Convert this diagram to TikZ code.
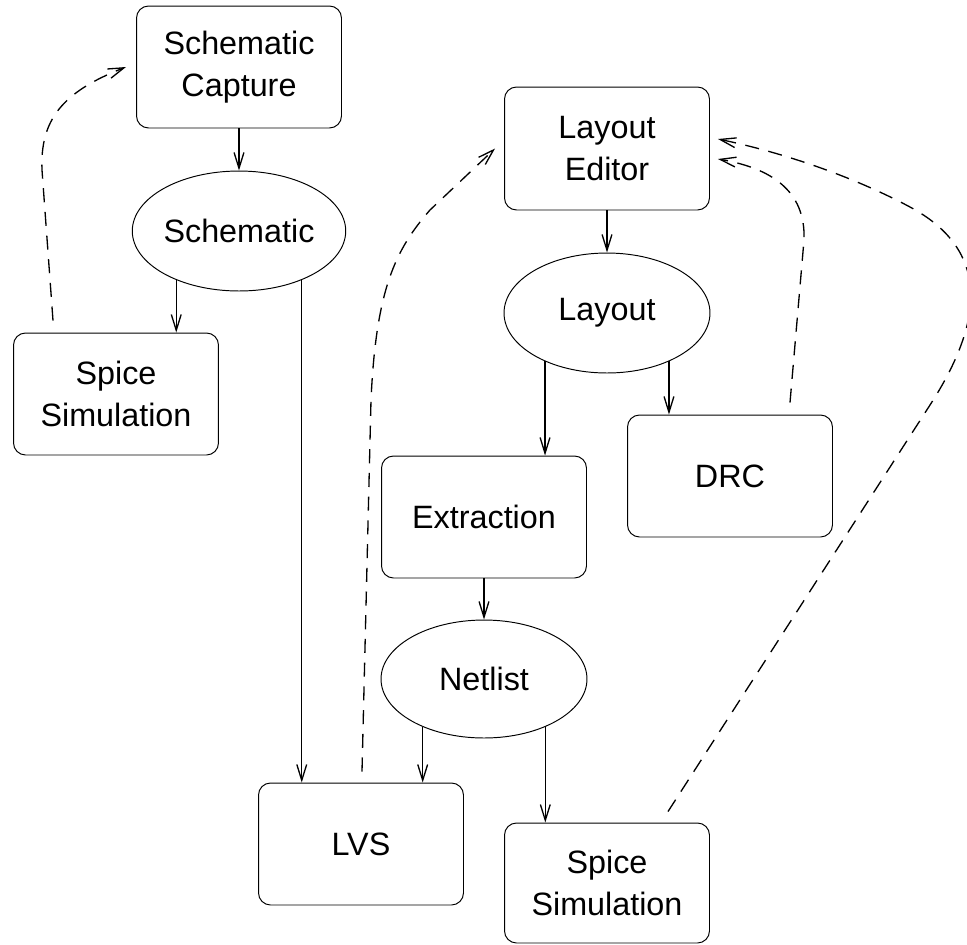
\documentclass[tikz,border=0pt]{standalone}
\usepackage{fontspec}
\setmainfont{Liberation Sans}
\usetikzlibrary{arrows.meta,shapes.geometric}

\begin{document}
\begin{tikzpicture}[
    x=0.02cm, y=-0.02cm,
    label/.style={font=\fontsize{18.4}{23.8}\selectfont, align=center},
    box/.style={label, rectangle, rounded corners=0.24cm, draw, line width=0.55pt, minimum width=4.1cm, minimum height=2.44cm},
    data/.style={label, ellipse, draw, line width=0.55pt, minimum width=4.12cm, minimum height=2.4cm, inner sep=0pt},
    arrow/.style={-{Straight Barb[length=9pt,width=5.6pt]}, line width=0.75pt},
    back/.style={arrow, dash pattern=on 8pt off 5.5pt}
  ]
  \useasboundingbox (0,0) rectangle (967,944);

  % schematic side
  \node[box] (cap) at (239,67) {Schematic\\Capture};
  \node[data] (sch) at (239,231) {Schematic};
  \node[box] (spiceL) at (116,394) {Spice\\Simulation};

  % layout side
  \node[box, minimum height=2.46cm] (le) at (607,148.5) {Layout\\Editor};
  \node[data] (lay) at (607,313) {Layout};
  \node[box] (drc) at (730,476) {DRC};
  \node[box] (ext) at (484,517) {Extraction};
  \node[data, minimum height=2.36cm] (net) at (484,679) {Netlist};
  \node[box] (lvs) at (361,844) {LVS};
  \node[box, minimum height=2.4cm] (spiceB) at (607,883) {Spice\\Simulation};

  % flow
  \draw[arrow] (cap) -- (sch);
  \draw[arrow] (sch.-142) -- (sch.-142 |- spiceL.north);
  \draw[arrow] (sch.-38) -- (sch.-38 |- lvs.north);
  \draw[arrow] (le) -- (lay);
  \draw[arrow] (lay.-142) -- (lay.-142 |- ext.north);
  \draw[arrow] (lay.-38) -- (lay.-38 |- drc.north);
  \draw[arrow] (ext) -- (net);
  \draw[arrow] (net.-142) -- (net.-142 |- lvs.north);
  \draw[arrow] (net.-38) -- (net.-38 |- spiceB.north);

  % feedback loops
  \draw[back] ([shift={(-63,-12)}]spiceL.north) -- (42,170)
    .. controls (40,120) and (62,92) .. ([shift={(-10,0)}]cap.west);
  \draw[back] ([shift={(1,-11)}]lvs.north) -- (371,400)
    .. controls (376,290) and (395,250) .. (430,210) -- ([shift={(-9,0)}]le.west);
  \draw[back] ([shift={(60,-12)}]drc.north) -- (804,240)
    .. controls (806,190) and (770,168) .. ([shift={(8,10.5)}]le.east);
  \draw[back] ([shift={(61,-11)}]spiceB.north) -- (930,405)
    .. controls (985,320) and (990,250) .. (910,207)
    .. controls (850,175) and (780,152) .. ([shift={(8,-9.5)}]le.east);
\end{tikzpicture}
\end{document}
